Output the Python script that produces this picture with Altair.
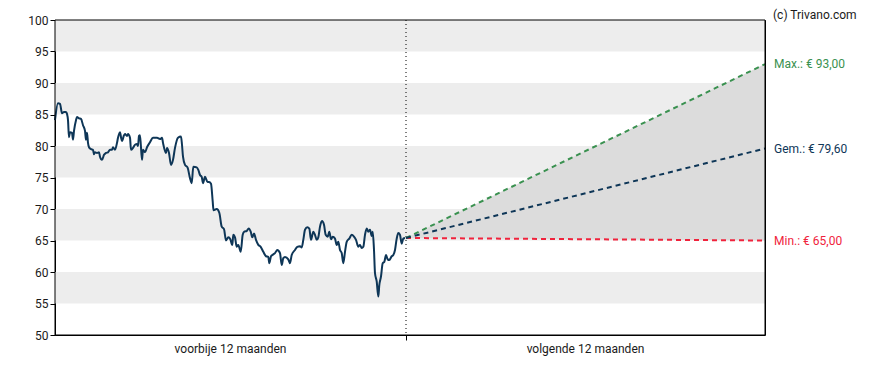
import altair as alt
import pandas as pd

# ---- data ----
past_t = [0, 3, 5, 7, 9, 11, 12, 13, 14, 15, 17, 18, 19, 21, 22, 24, 26, 28, 30, 31, 32, 33, 34, 36, 38,
          39, 40, 42, 44, 45, 47, 49, 51, 53, 55, 57, 58, 60, 62, 63, 65, 66, 67, 69, 70, 72, 73, 75, 76,
          78, 80, 82, 83, 84, 85, 87, 88, 90, 92, 95, 98, 102, 105, 107, 108, 111, 112, 114, 116, 118, 120,
          123, 126, 127, 128, 130, 132.5, 135, 136.7, 138.3, 141.7, 143.3, 145, 146.7, 148, 150, 152.5, 154,
          156, 157.7, 158.5, 161.7, 164.3, 166.7, 169, 171, 173.3, 175.3, 177.3, 178.3, 180, 181.7, 183.3,
          185.7, 187.7, 189.3, 191.7, 193.7, 195.7, 197.3, 199, 201, 203.3, 205.7, 208.3, 211, 213.3, 214.3,
          216, 218.3, 220, 222.3, 225, 226.7, 228.3, 230, 233.3, 235, 236.7, 240, 242.3, 245, 246.7, 248.3,
          250, 252.3, 254.3, 256, 258.3, 260, 261.7, 263.3, 265, 267, 269, 270.7, 272.7, 274.3, 276, 277.7,
          280, 281.7, 283.3, 285, 286.7, 288.3, 290, 291.7, 294.3, 296.7, 299, 301, 303.3, 305, 306.7, 308.3,
          310, 311.7, 313.3, 315, 316.7, 317.7, 319, 320, 321.7, 323.3, 324.3, 326, 327.7, 329.3, 331, 332.7,
          334.3, 336.7, 338.3, 340, 341.7, 343.3, 345, 346.7, 348.3, 350]
past_price = [84.1, 86.8, 86.7, 85.2, 85.4, 85.4, 85.1, 84.1, 81.4, 82.2, 82.1, 81.0, 82.4, 84.1, 84.6,
              84.4, 84.3, 83.3, 82.4, 81.0, 82.1, 80.5, 79.8, 79.5, 79.4, 78.7, 79.0, 78.9, 79.0, 78.3,
              77.8, 78.6, 78.9, 79.0, 79.4, 79.4, 79.8, 79.4, 80.5, 81.3, 82.2, 81.4, 80.8, 81.7, 81.9,
              81.6, 81.9, 81.3, 79.4, 79.7, 80.2, 80.3, 80.0, 81.6, 81.7, 77.8, 79.4, 79.0, 79.8, 80.6,
              81.3, 81.3, 81.1, 81.3, 80.5, 78.9, 79.7, 78.9, 77.0, 77.8, 79.7, 81.3, 81.5, 80.2, 78.3,
              77.0, 76.6, 74.9, 74.1, 76.7, 76.6, 76.2, 75.4, 75.1, 74.1, 75.1, 74.3, 74.3, 74.0, 71.2,
              69.8, 70.0, 69.4, 67.2, 66.8, 65.0, 65.5, 65.2, 64.3, 65.9, 65.5, 64.0, 64.3, 63.2, 65.9,
              66.4, 66.5, 66.9, 66.4, 65.5, 66.1, 65.1, 64.3, 64.0, 63.2, 62.5, 62.4, 61.4, 62.5, 62.8,
              63.0, 63.5, 63.0, 61.1, 62.2, 62.4, 62.0, 61.4, 62.7, 63.5, 64.0, 64.1, 63.9, 65.1, 66.7,
              67.1, 66.9, 65.1, 66.4, 65.9, 65.1, 65.5, 67.2, 68.1, 67.5, 65.9, 65.6, 66.4, 65.2, 65.6,
              65.3, 64.3, 64.8, 63.5, 63.0, 61.4, 63.2, 64.8, 65.3, 65.9, 65.6, 65.1, 64.0, 64.3, 63.8,
              64.0, 65.9, 66.9, 66.4, 66.7, 65.7, 66.4, 63.5, 59.8, 58.5, 56.1, 57.9, 59.3, 61.4, 61.6,
              62.7, 62.0, 61.9, 62.5, 62.7, 63.5, 65.3, 66.2, 65.9, 64.5, 65.3, 65.4]

forecast_t = [351, 710]
last_price = 65.4
target_max = 93.00
target_avg = 79.60
target_min = 65.00

band_lo = [55, 65, 75, 85, 95]
band_hi = [60, 70, 80, 90, 100]

y_ticks = [50, 55, 60, 65, 70, 75, 80, 85, 90, 95, 100]
period_labels = ["voorbije 12 maanden", "volgende 12 maanden"]
period_centers = [175.5, 530.5]

labels_txt = ["Max.: € 93,00", "Gem.: € 79,60", "Min.: € 65,00"]
label_vals = [target_max, target_avg, target_min]

GREEN = "#3a9150"
NAVY = "#0e3657"
RED = "#f0233c"
FONT = "Roboto"

n = min(len(past_t), len(past_price))
past_df = pd.DataFrame({"t": past_t[:n], "price": past_price[:n]})
band_df = pd.DataFrame({"lo": band_lo, "hi": band_hi})
fc_df = pd.DataFrame({
    "t": forecast_t,
    "max": [last_price, target_max],
    "avg": [last_price, target_avg],
    "min": [last_price, target_min],
})
lab_df = pd.DataFrame({"txt": labels_txt, "v": label_vals, "col": [GREEN, NAVY, RED]})
per_df = pd.DataFrame({"txt": period_labels, "t": period_centers})

xs = alt.Scale(domain=[0, 710], nice=False, zero=False)
ys = alt.Scale(domain=[50, 100], nice=False, zero=False)

X_AXIS = alt.Axis(values=[351], labels=False, tickSize=5, tickColor="black",
                  domain=False, grid=False, title=None)
Y_AXIS = alt.Axis(values=y_ticks, grid=False, title=None, tickSize=5,
                  tickColor="black", domainColor="black", labelFont=FONT,
                  labelFontSize=12, labelColor="#1a1a1a", labelPadding=2,
                  labelOverlap=False, labelFlush=False, tickCount=11)


def X(field):
    return alt.X(field, scale=xs, axis=X_AXIS)


def Y(field):
    return alt.Y(field, scale=ys, axis=Y_AXIS)


bands = alt.Chart(band_df).mark_rect(color="#ededed").encode(
    x=alt.datum(0, scale=xs, axis=X_AXIS),
    x2=alt.datum(710),
    y=Y("lo:Q"),
    y2="hi:Q",
)

area = alt.Chart(fc_df).mark_area(color="#dcdcdc", opacity=1).encode(
    x=X("t:Q"), y=Y("max:Q"), y2="min:Q"
)

divider = alt.Chart(pd.DataFrame({"t": [351]})).mark_rule(color="black", strokeDash=[1, 3], strokeWidth=1).encode(
    x=X("t:Q")
)

price = alt.Chart(past_df).mark_line(color=NAVY, strokeWidth=2, interpolate="monotone").encode(
    x=X("t:Q"), y=Y("price:Q")
)


def fline(col, color):
    return alt.Chart(fc_df).mark_line(color=color, strokeWidth=2, strokeDash=[5, 4]).encode(
        x=X("t:Q"), y=Y(f"{col}:Q")
    )


frame = alt.Chart(pd.DataFrame({"a": [0]})).mark_rect(filled=False, stroke="black", strokeWidth=1).encode(
    x=alt.datum(0, scale=xs, axis=X_AXIS), x2=alt.datum(710),
    y=alt.datum(50, scale=ys, axis=Y_AXIS), y2=alt.datum(100)
)

labels = alt.Chart(lab_df).mark_text(align="left", baseline="middle", dx=9, font=FONT, fontSize=12).encode(
    x=alt.datum(710, scale=xs, axis=X_AXIS), y=Y("v:Q"), text="txt:N",
    color=alt.Color("col:N", scale=None)
)

periods = alt.Chart(per_df).mark_text(align="center", baseline="middle", font=FONT, fontSize=12,
                                      color="#1a1a1a").encode(
    x=X("t:Q"), y=alt.value(329), text="txt:N"
)

copyright_txt = alt.Chart(pd.DataFrame({"txt": ["(c) Trivano.com"]})).mark_text(
    align="left", baseline="top", dx=8, font=FONT, fontSize=12, color="#1a1a1a"
).encode(x=alt.datum(710, scale=xs, axis=X_AXIS), y=alt.value(-10), text="txt:N")

chart = alt.layer(
    bands, area, divider, price,
    fline("min", RED), fline("max", GREEN), fline("avg", NAVY),
    frame, labels, periods, copyright_txt
).properties(
    width=710, height=315,
    padding={"left": 47, "top": 12, "right": 115, "bottom": 30},
    autosize=alt.AutoSizeParams(type="none"),
).configure_view(stroke="black", strokeWidth=1)

chart.save("out.html", embed_options={"renderer": "svg", "actions": False})
